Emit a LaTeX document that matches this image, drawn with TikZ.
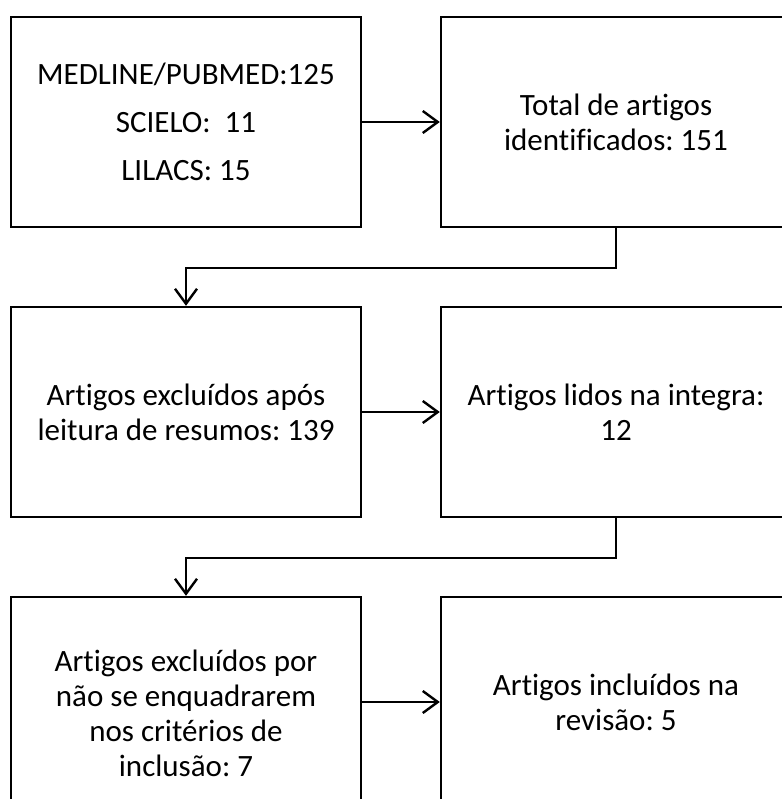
\documentclass[tikz,border=0pt]{standalone}
\usepackage{fontspec}
\setmainfont{Carlito}[Ligatures=NoCommon]
\usetikzlibrary{arrows.meta}
\begin{document}
\frenchspacing
\begin{tikzpicture}[x=1pt,y=-1pt,
  box/.style={draw=black,line width=2.4pt,minimum width=350pt,minimum height=210pt,inner sep=0pt,align=center,
    font=\fontsize{31}{35}\selectfont},
  conn/.style={line width=2.4pt,-{Straight Barb[length=15pt,width=22pt,line width=2.4pt]}}]
\useasboundingbox (0,0) rectangle (781,799);
\node[box,font=\fontsize{31}{48}\selectfont] (b1) at (186,122) {MEDLINE/PUBMED:125\\SCIELO:\ \ 11\\LILACS: 15};
\node[box] (b2) at (616,122) {Total de artigos\\identificados: 151};
\node[box] (b3) at (186,412) {Artigos excluídos após\\leitura de resumos: 139};
\node[box] (b4) at (616,412) {Artigos lidos na integra:\\12};
\node[box,minimum height=232pt] (b5) at (186,713) {Artigos excluídos por\\não se enquadrarem\\nos critérios de\\inclusão: 7};
\node[box] (b6) at (616,702) {Artigos incluídos na\\revisão: 5};
\draw[conn] (b1.east) -- (b2.west);
\draw[conn] (b3.east) -- (b4.west);
\draw[conn] (b5.east |- b6.west) -- (b6.west);
\draw[conn] (b2.south) -- ++(0,40) -| (b3.north);
\draw[conn] (b4.south) -- ++(0,40) -| (b5.north);
\end{tikzpicture}
\end{document}
